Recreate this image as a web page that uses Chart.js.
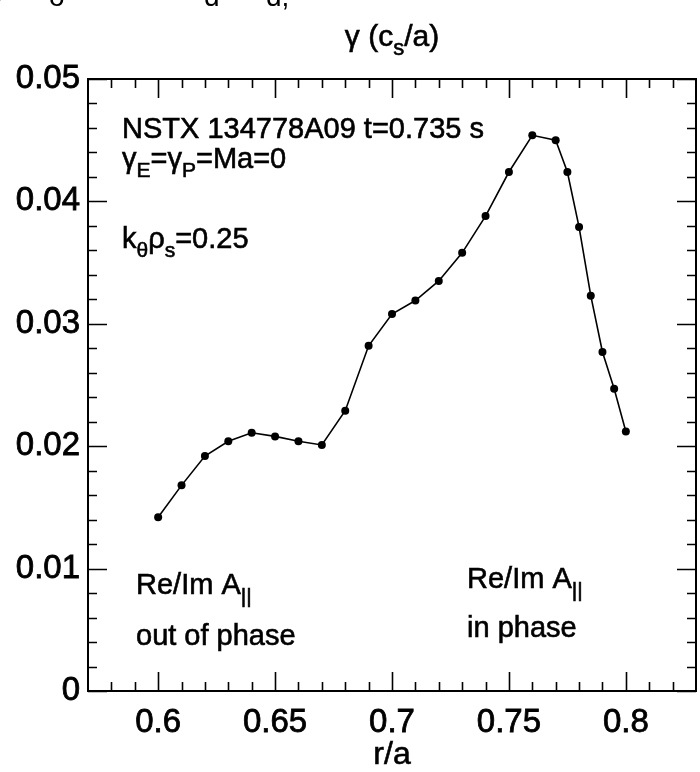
<!DOCTYPE html>
<html><head><meta charset="utf-8">
<script src="https://cdn.jsdelivr.net/npm/chart.js@4/dist/chart.umd.min.js"></script>
<style>html,body{margin:0;padding:0;background:#fff;}#wrap{width:700px;height:772px;position:relative;}</style>
</head><body><div id="wrap"><canvas id="c" width="700" height="772"></canvas></div>
<script>
// ---- data ----
const rOverA = [0.60,0.61,0.62,0.63,0.64,0.65,0.66,0.67,0.68,0.69,0.70,0.71,0.72,0.73,0.74,0.75,0.76,0.77,0.775,0.78,0.785,0.79,0.795,0.80];
const gammaValues = [0.0142,0.0168,0.0192,0.0204,0.0211,0.0208,0.0204,0.0201,0.0229,0.0282,0.0308,0.0319,0.0335,0.0358,0.0388,0.0424,0.0454,0.0450,0.0424,0.0379,0.0323,0.0277,0.0247,0.0212];
const xTickValues = [0.6,0.65,0.7,0.75,0.8];
const xTickLabels = ['0.6','0.65','0.7','0.75','0.8'];
const xMinorValues = [0.58,0.59,0.61,0.62,0.63,0.64,0.66,0.67,0.68,0.69,0.71,0.72,0.73,0.74,0.76,0.77,0.78,0.79,0.81,0.82];
const yTickValues = [0,0.01,0.02,0.03,0.04,0.05];
const yTickLabels = ['0','0.01','0.02','0.03','0.04','0.05'];
const yMinorValues = [0.002,0.004,0.006,0.008,0.012,0.014,0.016,0.018,0.022,0.024,0.026,0.028,0.032,0.034,0.036,0.038,0.042,0.044,0.046,0.048];

const FONT = '"Liberation Sans", Arial, Helvetica, sans-serif';

function drawRich(ctx, x, y, parts, size, align) {
  const subSize = Math.round(size * 0.72);
  let w = 0;
  for (const [t, m] of parts) {
    ctx.font = (m === 'sub' ? subSize : size) + 'px ' + FONT;
    w += ctx.measureText(t).width;
  }
  let cx = align === 'center' ? x - w / 2 : x;
  ctx.textAlign = 'left';
  ctx.textBaseline = 'alphabetic';
  ctx.lineWidth = 0.6;
  ctx.strokeStyle = '#000';
  for (const [t, m] of parts) {
    const s = m === 'sub' ? subSize : size;
    ctx.font = s + 'px ' + FONT;
    const yy = m === 'sub' ? y + size * 0.3 : y;
    ctx.fillText(t, cx, yy);
    ctx.strokeText(t, cx, yy);
    cx += ctx.measureText(t).width;
  }
}

const framePlugin = {
  id: 'frame',
  afterDraw(chart) {
    const ctx = chart.ctx;
    const a = chart.chartArea;
    const xs = chart.scales.x, ys = chart.scales.y;
    ctx.save();
    ctx.strokeStyle = '#000';
    ctx.fillStyle = '#000';
    ctx.lineWidth = 2;
    ctx.strokeRect(a.left, a.top, a.right - a.left, a.bottom - a.top);
    ctx.lineWidth = 1.6;
    const MAJ = 19, MIN = 9;
    ctx.beginPath();
    for (const v of xTickValues.concat(xMinorValues)) {
      const L = xTickValues.includes(v) ? MAJ : MIN;
      const px = Math.round(xs.getPixelForValue(v)) + 0.5;
      ctx.moveTo(px, a.bottom); ctx.lineTo(px, a.bottom - L);
      ctx.moveTo(px, a.top); ctx.lineTo(px, a.top + L);
    }
    for (const v of yTickValues.concat(yMinorValues)) {
      const L = yTickValues.includes(v) ? MAJ : MIN;
      const py = Math.round(ys.getPixelForValue(v)) + 0.5;
      ctx.moveTo(a.left, py); ctx.lineTo(a.left + L, py);
      ctx.moveTo(a.right, py); ctx.lineTo(a.right - L, py);
    }
    ctx.stroke();

    // title
    drawRich(ctx, (a.left + a.right) / 2, 46, [['\u03b3 (c','n'],['s','sub'],['/a)','n']], 30, 'center');
    // clipped text at top edge
    ctx.font = '28px ' + FONT;
    ctx.textAlign = 'left';
    ctx.fillText('\u03b3', -8, 0);
    ctx.fillText('o', 49, 6);
    ctx.fillText('d', 204, 6);
    ctx.fillText('d,', 266, 6);

    // annotations
    drawRich(ctx, 122, 138, [['NSTX 134778A09 t=0.735 s','n']], 29, 'left');
    drawRich(ctx, 122, 168, [['\u03b3','n'],['E','sub'],['=\u03b3','n'],['P','sub'],['=Ma=0','n']], 29, 'left');
    drawRich(ctx, 122, 248, [['k','n'],['\u03b8','sub'],['\u03c1','n'],['s','sub'],['=0.25','n']], 29, 'left');
    drawRich(ctx, 136, 594, [['Re/Im A','n'],['||','sub']], 29, 'left');
    drawRich(ctx, 136, 645, [['out of phase','n']], 29, 'left');
    drawRich(ctx, 467, 588, [['Re/Im A','n'],['||','sub']], 29, 'left');
    drawRich(ctx, 467, 637, [['in phase','n']], 29, 'left');
    // x-axis title
    drawRich(ctx, (a.left + a.right) / 2, 764, [['r/a','n']], 32, 'center');
    ctx.restore();
  }
};

new Chart(document.getElementById('c'), {
  type: 'line',
  data: {
    datasets: [{
      data: rOverA.map((r, i) => ({x: r, y: gammaValues[i]})),
      borderColor: '#000',
      backgroundColor: '#000',
      borderWidth: 1.6,
      pointRadius: 4,
      pointBorderWidth: 0,
      pointBackgroundColor: '#000',
      tension: 0,
      fill: false
    }]
  },
  options: {
    responsive: false,
    animation: false,
    devicePixelRatio: 1,
    layout: {padding: {top: 79, right: 1, left: 0, bottom: 0}},
    plugins: {legend: {display: false}, tooltip: {enabled: false}, title: {display: false}},
    scales: {
      x: {
        type: 'linear', position: 'bottom', min: 0.57, max: 0.83,
        grid: {display: false, drawTicks: false}, border: {display: false},
        afterBuildTicks: s => { s.ticks = xTickValues.map(v => ({value: v})); },
        afterFit: s => { s.height = 81; },
        ticks: {
          autoSkip: false, maxRotation: 0, padding: 12, color: '#000',
          textStrokeColor: '#000', textStrokeWidth: 0.8,
          font: {size: 33, family: FONT},
          callback: v => { const i = xTickValues.findIndex(t => Math.abs(t - v) < 1e-9); return i >= 0 ? xTickLabels[i] : ''; }
        }
      },
      y: {
        type: 'linear', min: 0, max: 0.05,
        grid: {display: false, drawTicks: false}, border: {display: false},
        afterBuildTicks: s => { s.ticks = yTickValues.map(v => ({value: v})); },
        afterFit: s => { s.width = 88; },
        ticks: {
          autoSkip: false, padding: 8, color: '#000',
          textStrokeColor: '#000', textStrokeWidth: 0.8,
          font: {size: 33, family: FONT},
          callback: v => { const i = yTickValues.findIndex(t => Math.abs(t - v) < 1e-9); return i >= 0 ? yTickLabels[i] : ''; }
        }
      }
    }
  },
  plugins: [framePlugin]
});
</script>
</body></html>
